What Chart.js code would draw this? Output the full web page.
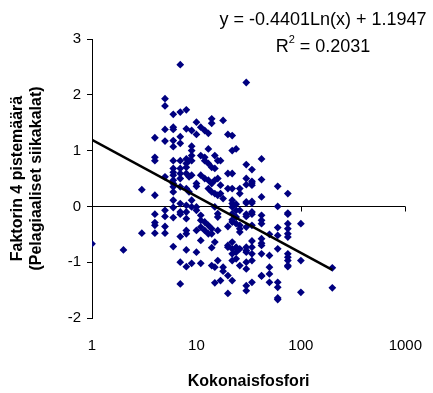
<!DOCTYPE html>
<html>
<head>
<meta charset="utf-8">
<script src="https://cdn.jsdelivr.net/npm/chart.js@4/dist/chart.umd.min.js"></script>
<style>
  html, body { margin: 0; padding: 0; background: #fff; }
  #wrap { width: 433px; height: 393px; }
</style>
</head>
<body>
<div id="wrap"><canvas id="kuva" width="433" height="393"></canvas></div>
<script>
// kokonaisfosfori (x) ja faktorin 4 pisteet, järvet ryhmiteltyinä fosforin mukaan
const fosfori = [1, 2, 3, 4, 5, 6, 7, 8, 8.5, 9, 10, 11, 12, 13, 14, 15, 16, 17, 18, 20, 22, 24, 26, 30, 34, 42, 50, 60, 75, 100, 200];
const pisteet = [
  [-0.67],
  [-0.78],
  [0.30, -0.48],
  [1.23, 0.88, 0.82, 0.20, -0.14, -0.29, -0.34, -0.48],
  [1.93, 1.80, 1.38, 1.17, 0.53, -0.07, -0.18, -0.36, -0.48],
  [1.65, 1.42, 1.38, 1.18, 1.07, 0.82, 0.68, 0.61, 0.56, 0.47, 0.41, 0.35, 0.26, 0.11, -0.02, -0.20, -0.72],
  [2.54, 1.69, 1.25, 1.13, 0.82, 0.68, 0.59, 0.50, 0.35, 0.05, -0.10, -0.14, -0.54, -1.00, -1.39],
  [1.73, 1.39, 0.85, 0.77, 0.70, 0.59, 0.32, 0.02, -0.10, -0.22, -0.43, -0.49, -0.78, -1.08],
  [0.82, 0.53, 0.26],
  [1.36, 1.08, 1.00, 0.91, 0.82, 0.56, 0.11, -0.01, -1.02],
  [1.51, 1.29, 0.41, 0.36, -0.01, -0.07, -0.43, -0.82],
  [1.42, 0.91, 0.56, -0.16, -0.25, -0.37, -0.61, -1.02],
  [1.36, 0.88, 0.82, 0.50, -0.28, -0.43],
  [1.31, 1.03, 0.77, 0.47, 0.32, -0.34, -0.49],
  [1.57, 1.49, 0.70, 0.41, 0.26, -0.40, -0.49, -0.74, -1.06],
  [0.91, 0.68, 0.47, 0.23, -0.01, -0.64, -1.09, -1.37],
  [0.82, 0.50, 0.20, -0.13, -0.19, -0.43, -0.97],
  [0.82, 0.38, 0.23, -1.33],
  [1.54, 0.14, -1.09, -1.16],
  [1.29, 0.59, 0.32, -0.36, -0.70, -0.73, -1.24, -1.56],
  [1.27, 1.00, 0.59, 0.32, 0.11, 0.05, -0.01, -0.13, -0.24, -0.28, -0.64, -0.76, -0.85, -0.97, -1.33],
  [1.03, 0.04, -0.07, -0.19, -0.31, -0.73, -0.82, -0.94],
  [0.32, 0.23, -0.07, -0.34, -0.40, -0.46, -0.76, -1.06],
  [2.22, 0.75, 0.50, 0.39, 0.08, 0.06, -0.14, -0.18, -0.37, -0.73, -0.79, -0.82, -1.00, -1.12, -1.42, -1.51],
  [0.66, 0.45, 0.42, 0.38, 0.09, 0.06, -0.10, -0.14, -0.34, -0.62, -0.73, -0.85, -0.97, -1.36],
  [0.85, 0.48, 0.17, -0.16, -0.25, -0.31, -0.58, -0.66, -0.70, -0.85, -1.24, -1.25],
  [-0.50, -0.88, -1.09, -1.21, -1.36],
  [0.36, 0.00, -0.38, -0.52, -0.76, -1.36, -1.45, -1.64, -1.67],
  [0.23, -0.12, -0.14, -0.31, -0.40, -0.49, -0.55, -0.85, -0.91, -0.97, -1.06, -1.08],
  [-0.31, -0.97, -1.54],
  [-1.10, -1.46]
];

// logaritminen trendi y = a*ln(x) + b
const trendiA = -0.4401;
const trendiB = 1.1947;
const trendiR2 = 0.2031;
const trendiVali = [1, 200];

const xTicks = [1, 10, 100, 1000];
const yTicks = [-2, -1, 0, 1, 2, 3];

const havainnot = [];
fosfori.forEach((x, i) => pisteet[i].forEach(y => havainnot.push({ x: x, y: y })));

const trendi = trendiVali.map(x => ({ x: x, y: trendiA * Math.log(x) + trendiB }));

const fontti = '"Liberation Sans", Arial, sans-serif';

// vaaka-akseli kulkee y = 0 kohdalta, väliviivat alaspäin
const nollaAkseli = {
  id: 'nollaAkseli',
  beforeDatasetsDraw(chart) {
    const { ctx, chartArea, scales } = chart;
    const py = Math.round(scales.y.getPixelForValue(0)) + 0.5;
    ctx.save();
    ctx.strokeStyle = '#000';
    ctx.lineWidth = 1;
    ctx.beginPath();
    ctx.moveTo(chartArea.left, py);
    ctx.lineTo(chartArea.right, py);
    xTicks.slice(1).forEach(v => {
      const px = Math.round(scales.x.getPixelForValue(v)) + 0.5;
      ctx.moveTo(px, py);
      ctx.lineTo(px, py + 5);
    });
    ctx.stroke();
    ctx.restore();
  }
};

// trendin yhtälö ja selitysaste oikeaan yläkulmaan, keskitettyinä
const yhtalo = {
  id: 'yhtalo',
  afterDraw(chart) {
    const ctx = chart.ctx;
    const keski = 323;
    ctx.save();
    ctx.fillStyle = '#000';
    ctx.textBaseline = 'middle';
    ctx.textAlign = 'left';
    const iso = '18px ' + fontti;
    const pieni = '11px ' + fontti;
    ctx.font = iso;
    const rivi1 = 'y = ' + trendiA.toFixed(4) + 'Ln(x) + ' + trendiB.toFixed(4);
    ctx.fillText(rivi1, keski - ctx.measureText(rivi1).width / 2, 20);

    const loppu = ' = ' + trendiR2.toFixed(4);
    const wR = ctx.measureText('R').width;
    const wL = ctx.measureText(loppu).width;
    ctx.font = pieni;
    const w2 = ctx.measureText('2').width;
    let x = keski - (wR + w2 + wL) / 2;
    ctx.font = iso;
    ctx.fillText('R', x, 47);
    x += wR;
    ctx.font = pieni;
    ctx.fillText('2', x, 40);
    x += w2;
    ctx.font = iso;
    ctx.fillText(loppu, x, 47);
    ctx.restore();
  }
};

new Chart(document.getElementById('kuva'), {
  type: 'scatter',
  data: {
    datasets: [
      {
        type: 'line',
        data: trendi,
        borderColor: '#000',
        borderWidth: 2.5,
        pointRadius: 0,
        fill: false,
        order: 0
      },
      {
        data: havainnot,
        backgroundColor: '#000080',
        borderWidth: 0,
        pointStyle: 'rectRot',
        pointRadius: 3.9,
        order: 1
      }
    ]
  },
  options: {
    responsive: false,
    animation: false,
    layout: { padding: { top: 39, right: 21, left: 0, bottom: 0 } },
    plugins: { legend: { display: false }, tooltip: { enabled: false } },
    scales: {
      x: {
        type: 'logarithmic',
        min: 1,
        max: 1000,
        position: 'bottom',
        afterBuildTicks: s => { s.ticks = xTicks.map(v => ({ value: v })); },
        afterFit: s => { s.height = 75; },
        grid: { display: false },
        border: { display: false },
        ticks: {
          color: '#000',
          font: { family: fontti, size: 15 },
          padding: 11,
          maxRotation: 0,
          callback: v => String(v)
        },
        title: {
          display: true,
          text: 'Kokonaisfosfori',
          color: '#000',
          font: { family: fontti, size: 16, weight: 'bold' },
          padding: { top: 14, bottom: 2 }
        }
      },
      y: {
        min: -2,
        max: 3,
        afterBuildTicks: s => { s.ticks = yTicks.map(v => ({ value: v })); },
        afterFit: s => { s.width = 92; },
        grid: { drawOnChartArea: false, drawTicks: true, tickLength: 5, color: '#000' },
        border: { display: true, color: '#000', width: 1 },
        ticks: {
          color: '#000',
          font: { family: fontti, size: 15 },
          padding: 6
        },
        title: {
          display: true,
          text: ['Faktorin 4 pistemäärä', '(Pelagiaaliset siikakalat)'],
          color: '#000',
          font: { family: fontti, size: 16, weight: 'bold', lineHeight: 1.2 },
          padding: { top: 8, bottom: 0 }
        }
      }
    }
  },
  plugins: [nollaAkseli, yhtalo]
});
</script>
</body>
</html>
